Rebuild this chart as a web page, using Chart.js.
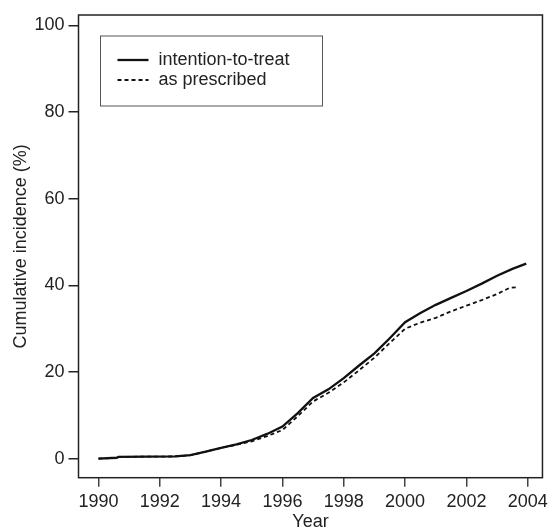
<!DOCTYPE html>
<html>
<head>
<meta charset="utf-8">
<script src="https://cdn.jsdelivr.net/npm/chart.js@4"></script>
<style>
  html, body { margin: 0; padding: 0; background: #fff; }
  #wrap { width: 553px; height: 531px; }
</style>
</head>
<body>
<div id="wrap"><canvas id="myChart" width="553" height="531"></canvas></div>
<script>
// data
const years = [1990, 1990.6, 1990.65, 1992.5, 1993, 1993.5, 1994, 1994.5, 1995, 1995.5, 1996, 1996.5,
  1997, 1997.5, 1998, 1998.5, 1999, 1999.5, 2000, 2000.5, 2001, 2001.5, 2002, 2002.5, 2003, 2003.5, 2003.95]
const intentionToTreat = [0, 0.2, 0.4, 0.5, 0.8, 1.6, 2.5, 3.3, 4.3, 5.7, 7.4, 10.5,
  14.0, 16.0, 18.6, 21.5, 24.3, 27.8, 31.5, 33.6, 35.5, 37.1, 38.7, 40.4, 42.2, 43.8, 45.0]

const prescribedYears = [1990, 1990.6, 1990.65, 1992.5, 1993, 1993.5, 1994, 1994.5, 1995, 1995.5, 1996, 1996.5,
  1997, 1997.5, 1998, 1998.5, 1999, 1999.5, 2000, 2000.5, 2001, 2001.5, 2002, 2002.5, 2003, 2003.4, 2003.7]
const asPrescribed = [0, 0.2, 0.4, 0.5, 0.8, 1.6, 2.5, 3.2, 4.0, 5.2, 6.6, 9.8,
  13.2, 15.2, 17.6, 20.4, 23.3, 26.7, 30.0, 31.4, 32.5, 34.0, 35.3, 36.6, 38.0, 39.4, 39.6]

const xTicks = [1990, 1992, 1994, 1996, 1998, 2000, 2002, 2004]
const yTicks = [0, 20, 40, 60, 80, 100]

const ink = '#222'
const font = { family: 'Liberation Sans, Arial, sans-serif', size: 18 }

const toPoints = (xs, ys) => xs.map((x, i) => ({ x: x, y: ys[i] }))

// frame around the plot area
const frame = {
  id: 'frame',
  afterDraw (chart) {
    const { ctx, chartArea: a } = chart
    ctx.save()
    ctx.strokeStyle = ink
    ctx.lineWidth = 1.5
    ctx.strokeRect(a.left, a.top, a.right - a.left, a.bottom - a.top)
    ctx.restore()
  }
}

// boxed legend in the top-left corner
const boxLegend = {
  id: 'boxLegend',
  afterDraw (chart) {
    const ctx = chart.ctx
    const a = chart.chartArea
    const x0 = a.left + 22
    const y0 = a.top + 21
    ctx.save()
    ctx.strokeStyle = '#555'
    ctx.lineWidth = 1
    ctx.strokeRect(x0, y0, 222, 70)
    ctx.font = font.size + 'px ' + font.family
    ctx.fillStyle = ink
    ctx.textBaseline = 'middle'
    chart.data.datasets.forEach((ds, i) => {
      const y = y0 + 24 + i * 20
      ctx.strokeStyle = ds.borderColor
      ctx.lineWidth = ds.borderWidth
      ctx.setLineDash(ds.borderDash || [])
      ctx.beginPath()
      ctx.moveTo(x0 + 17, y)
      ctx.lineTo(x0 + 48, y)
      ctx.stroke()
      ctx.setLineDash([])
      ctx.fillText(ds.label, x0 + 58, y)
    })
    ctx.restore()
  }
}

const ctx = document.getElementById('myChart').getContext('2d')
new Chart(ctx, {
  type: 'line',
  data: {
    datasets: [
      {
        label: 'intention-to-treat',
        data: toPoints(years, intentionToTreat),
        borderColor: '#111',
        borderWidth: 2.3,
        pointRadius: 0,
        tension: 0
      },
      {
        label: 'as prescribed',
        data: toPoints(prescribedYears, asPrescribed),
        borderColor: '#111',
        borderWidth: 1.8,
        borderDash: [4, 3],
        pointRadius: 0,
        tension: 0
      }
    ]
  },
  options: {
    responsive: false,
    animation: false,
    layout: { padding: { left: 0, right: 7.3, top: 15, bottom: 0 } },
    plugins: {
      legend: { display: false },
      tooltip: { enabled: false }
    },
    scales: {
      x: {
        type: 'linear',
        min: 1989.35,
        max: 2004.48,
        afterBuildTicks: s => { s.ticks = xTicks.map(v => ({ value: v })) },
        afterFit: s => { s.height = 53.3 },
        border: { display: false },
        grid: { drawOnChartArea: false, drawTicks: true, tickLength: 9, color: '#444', lineWidth: 1.5 },
        ticks: { color: ink, font: font, padding: 5, maxRotation: 0, callback: v => String(v) },
        title: { display: true, text: 'Year', color: ink, font: font, padding: { top: 0, bottom: -2 } }
      },
      y: {
        min: -4.4,
        max: 102.4,
        afterBuildTicks: s => { s.ticks = yTicks.map(v => ({ value: v })) },
        afterFit: s => { s.width = 78.5 },
        border: { display: false },
        grid: { drawOnChartArea: false, drawTicks: true, tickLength: 10, color: ink, lineWidth: 1.5 },
        ticks: { color: ink, font: font, padding: 4 },
        title: { display: true, text: 'Cumulative incidence (%)', color: ink, font: font, padding: { top: 10, bottom: 0 } }
      }
    }
  },
  plugins: [frame, boxLegend]
})
</script>
</body>
</html>
